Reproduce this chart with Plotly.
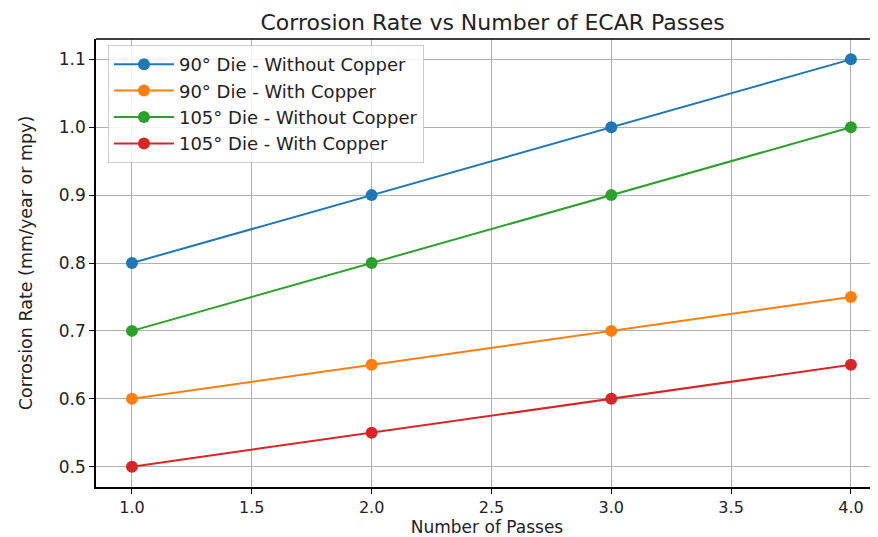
import plotly.graph_objects as go

passes = [1, 2, 3, 4]
series_names = [
    "90° Die - Without Copper",
    "90° Die - With Copper",
    "105° Die - Without Copper",
    "105° Die - With Copper",
]
die90_no_cu = [0.80, 0.90, 1.00, 1.10]
die90_cu = [0.60, 0.65, 0.70, 0.75]
die105_no_cu = [0.70, 0.80, 0.90, 1.00]
die105_cu = [0.50, 0.55, 0.60, 0.65]
colors = ["#1f77b4", "#ff7f0e", "#2ca02c", "#d62728"]
x_ticks = [1.0, 1.5, 2.0, 2.5, 3.0, 3.5, 4.0]
y_ticks = [0.5, 0.6, 0.7, 0.8, 0.9, 1.0, 1.1]

fig = go.Figure()
for name, vals, c in zip(series_names, [die90_no_cu, die90_cu, die105_no_cu, die105_cu], colors):
    fig.add_trace(go.Scatter(
        x=passes, y=vals, name=name, mode="lines+markers",
        line=dict(color=c, width=2), marker=dict(color=c, size=12),
    ))

font = "DejaVu Sans"
# page has an 8px body margin, so the figure is sized to fill the visible window
fig.update_layout(
    width=870, height=529,
    margin=dict(l=88, r=0, t=31, b=50),
    paper_bgcolor="white", plot_bgcolor="white",
    font=dict(family=font, color="#222", size=17),
    title=dict(text="Corrosion Rate vs Number of ECAR Passes", x=0.557, xanchor="center",
               y=0.9735, yanchor="middle", font=dict(size=22, color="#222")),
    showlegend=True,
    legend=dict(x=0.0153, y=0.9866, xanchor="left", yanchor="top",
                bgcolor="rgba(255,255,255,0.85)", bordercolor="#cccccc", borderwidth=1,
                font=dict(size=18, color="#222"), tracegroupgap=0, itemwidth=60),
)
fig.update_xaxes(
    range=[0.85, 4.113], tickvals=x_ticks, ticktext=[f"{v:.1f}" for v in x_ticks],
    tickfont=dict(size=16),
    showgrid=True, gridcolor="#b0b0b0", gridwidth=1,
    showline=True, linecolor="black", linewidth=1.5,
    ticks="outside", ticklen=5, tickcolor="black",
    title=dict(text="Number of Passes", font=dict(size=17), standoff=9),
    zeroline=False, automargin=False,
)
fig.update_yaxes(
    range=[0.47, 1.13], tickvals=y_ticks, ticktext=[f"{v:.1f}" for v in y_ticks],
    showgrid=True, gridcolor="#b0b0b0", gridwidth=1,
    showline=True, linecolor="black", linewidth=1.5,
    ticks="outside", ticklen=5, tickcolor="black",
    title=dict(text="Corrosion Rate (mm/year or mpy)", font=dict(size=17.5), standoff=22),
    zeroline=False, automargin=False,
)
fig.add_shape(type="line", xref="paper", yref="paper", x0=0, x1=1, y0=1, y1=1,
              line=dict(color="black", width=1.5))
fig.write_html("out.html")
